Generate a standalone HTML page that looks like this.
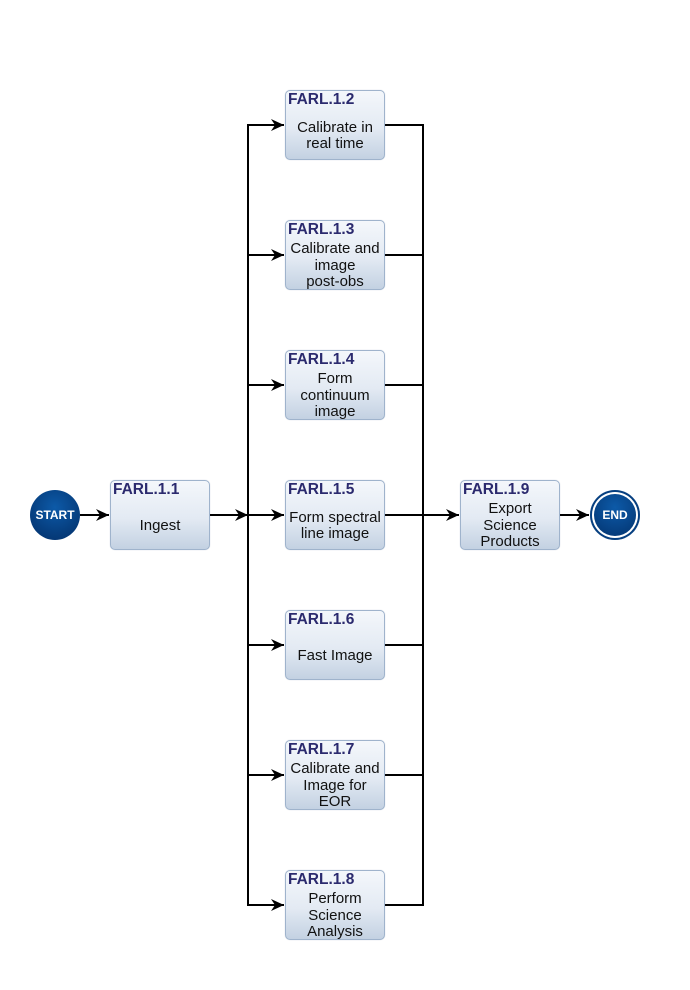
<!DOCTYPE html>
<html><head><meta charset="utf-8">
<style>
html,body{margin:0;padding:0;background:#fff;}
body{width:690px;height:990px;position:relative;overflow:hidden;font-family:"Liberation Sans",sans-serif;}
.box{position:absolute;width:98px;height:68px;border:1px solid #9fb3cc;border-radius:5px;
background:linear-gradient(#f4f7fb,#e3eaf3 55%,#c3d1e2);box-shadow:0 0 1px rgba(80,100,140,.3);overflow:hidden;}
.t{position:absolute;left:2px;top:0px;font-weight:bold;font-size:15.5px;color:#2b2a6e;}
.b{position:absolute;left:-4px;right:-4px;top:20px;height:50px;display:flex;align-items:center;justify-content:center;
text-align:center;font-size:15px;line-height:16.5px;color:#111;}
.c{position:absolute;width:50px;height:50px;border-radius:50%;color:#fff;font-weight:bold;font-size:12px;
display:flex;align-items:center;justify-content:center;background:radial-gradient(circle at 50% 35%,#0d5aa8,#063f80 60%,#03306a);}
</style></head><body>
<svg width="690" height="990" style="position:absolute;left:0;top:0">
<defs><marker id="a" markerWidth="14" markerHeight="12" refX="13" refY="6" orient="auto" markerUnits="userSpaceOnUse">
<path d="M0,0 L13,6 L0,12 L4,6 Z" fill="#000"/></marker></defs>
<g stroke="#000" stroke-width="2" fill="none">
<line x1="248" y1="124" x2="248" y2="906"/>
<line x1="423" y1="124" x2="423" y2="906"/>
<line x1="80" y1="515" x2="109" y2="515" marker-end="url(#a)"/>
<line x1="210" y1="515" x2="248" y2="515" marker-end="url(#a)"/>
<line x1="423" y1="515" x2="459" y2="515" marker-end="url(#a)"/>
<line x1="560" y1="515" x2="589" y2="515" marker-end="url(#a)"/>
<line x1="247" y1="125" x2="284" y2="125" marker-end="url(#a)"/><line x1="385" y1="125" x2="424" y2="125"/>
<line x1="247" y1="255" x2="284" y2="255" marker-end="url(#a)"/><line x1="385" y1="255" x2="424" y2="255"/>
<line x1="247" y1="385" x2="284" y2="385" marker-end="url(#a)"/><line x1="385" y1="385" x2="424" y2="385"/>
<line x1="247" y1="515" x2="284" y2="515" marker-end="url(#a)"/><line x1="385" y1="515" x2="424" y2="515"/>
<line x1="247" y1="645" x2="284" y2="645" marker-end="url(#a)"/><line x1="385" y1="645" x2="424" y2="645"/>
<line x1="247" y1="775" x2="284" y2="775" marker-end="url(#a)"/><line x1="385" y1="775" x2="424" y2="775"/>
<line x1="247" y1="905" x2="284" y2="905" marker-end="url(#a)"/><line x1="385" y1="905" x2="424" y2="905"/>
</g>
</svg>
<div class="c" style="left:30px;top:490px;">START</div>
<div class="c" style="left:590px;top:490px;box-shadow:inset 0 0 0 2px #063f80,inset 0 0 0 4px #fff;">END</div>

<div class="box" style="left:110px;top:480px"><div class="t">FARL.1.1</div><div class="b">Ingest</div></div>
<div class="box" style="left:285px;top:90px"><div class="t">FARL.1.2</div><div class="b">Calibrate in<br>real time</div></div>
<div class="box" style="left:285px;top:220px"><div class="t">FARL.1.3</div><div class="b">Calibrate and<br>image<br>post-obs</div></div>
<div class="box" style="left:285px;top:350px"><div class="t">FARL.1.4</div><div class="b">Form<br>continuum<br>image</div></div>
<div class="box" style="left:285px;top:480px"><div class="t">FARL.1.5</div><div class="b">Form spectral<br>line image</div></div>
<div class="box" style="left:285px;top:610px"><div class="t">FARL.1.6</div><div class="b">Fast Image</div></div>
<div class="box" style="left:285px;top:740px"><div class="t">FARL.1.7</div><div class="b">Calibrate and<br>Image for<br>EOR</div></div>
<div class="box" style="left:285px;top:870px"><div class="t">FARL.1.8</div><div class="b">Perform<br>Science<br>Analysis</div></div>
<div class="box" style="left:460px;top:480px"><div class="t">FARL.1.9</div><div class="b">Export<br>Science<br>Products</div></div>
</body></html>
